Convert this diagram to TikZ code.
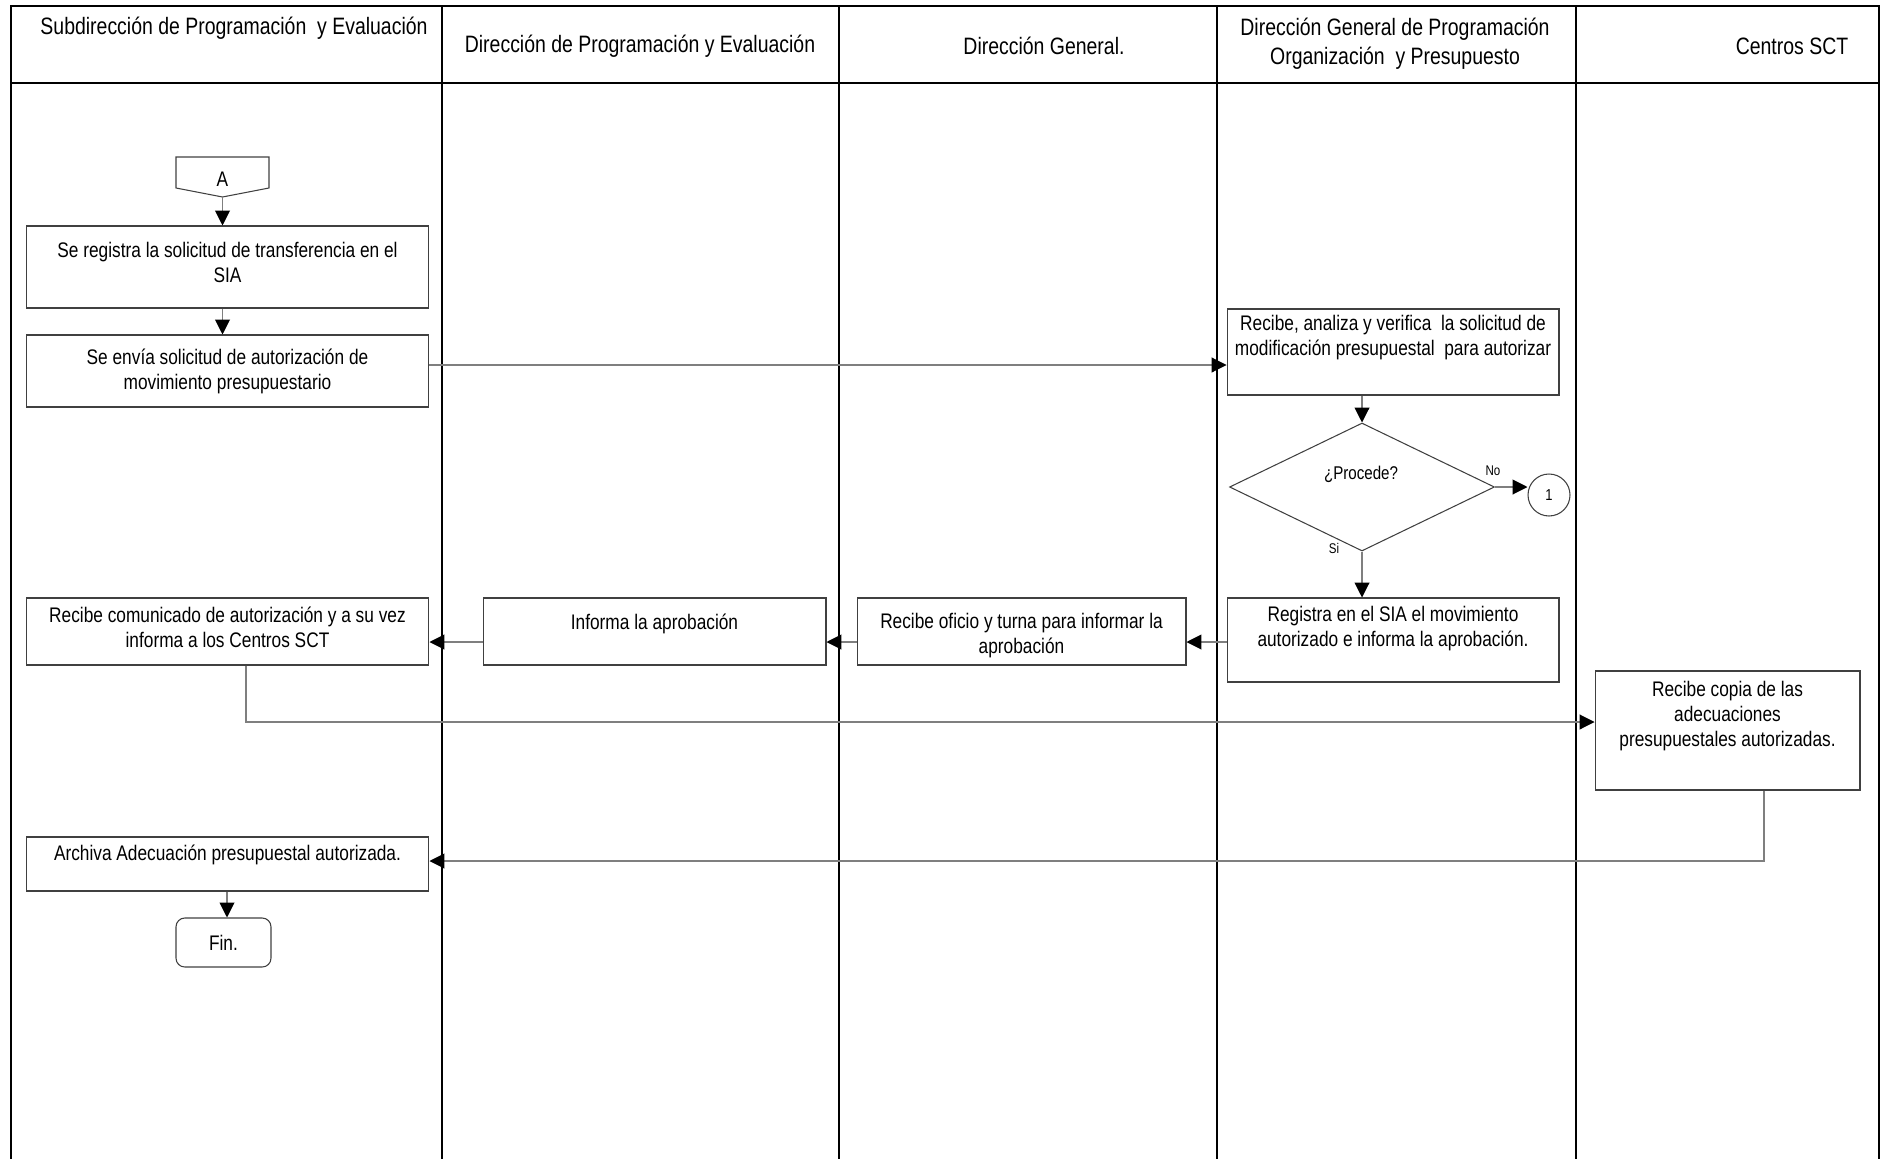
\documentclass[tikz,border=0pt]{standalone}
\usepackage{fontspec}
\setmainfont{Liberation Sans}[FakeStretch=0.82]
\usetikzlibrary{arrows.meta,positioning,shapes.geometric}
\definecolor{fline}{HTML}{7F7F7F}
\definecolor{fbox}{HTML}{404040}

\begin{document}
\begin{tikzpicture}[x=0.02cm, y=-0.02cm,
  lane/.style={line width=1.1pt, black},
  box/.style={draw=fbox, line width=0.6pt, rectangle, inner sep=0pt},
  txt/.style={font=\fontsize{12}{14.2}\selectfont, align=center, inner sep=0pt},
  head/.style={font=\fontsize{13.5}{16.4}\selectfont, align=center, inner sep=0pt},
  tag/.style={font=\fontsize{8}{9}\selectfont, inner sep=0pt},
  flow/.style={draw=fline, line width=0.6pt,
               -{Triangle[length=8.5pt,width=8.5pt,color=black]}}]
\useasboundingbox (0,0) rectangle (1883,1159);
% ---- swimlanes ----------------------------------------------------
\draw[lane] (11,1159) -- (11,6) -- (1879,6) -- (1879,1159);
\draw[lane] (11,83) -- (1879,83);
\foreach \x in {442,839,1217,1576}
  \draw[lane] (\x,6) -- (\x,1159);
\node[head] (hSub) at (234,28) {Subdirección de Programación\ \ y Evaluación};
\node[head] (hDir) at (640,46) {Dirección de Programación y Evaluación};
\node[head] (hGen) at (1044,46) {Dirección General.};
\node[head] (hDgp) at (1395,44) {Dirección General de Programación\\Organización\ \ y Presupuesto};
\node[head] (hCen) at (1792,46) {Centros SCT};
% ---- off-page connector A -----------------------------------------
\draw[box] (176,157) -- (269,157) -- (269,188) -- (222.5,197) -- (176,188) -- cycle;
\coordinate (aTip) at (222.5,197);
\node[font=\fontsize{12}{14}\selectfont] (aTxt) at (222.5,179) {A};
% ---- Subdireccion: first steps ------------------------------------
\node[box, minimum width=8.06cm, minimum height=1.64cm] (reg) at (227.5,267) {};
\node[txt] (regT) at (227.5,262.5) {Se registra la solicitud de transferencia en el\\SIA};
\node[box, minimum width=8.06cm, minimum height=1.44cm] (env) at (227.5,371) {};
\node[txt] (envT) at (227.5,371) {Se envía solicitud de autorización de\\movimiento presupuestario};
\coordinate (colA) at (222.5,0);
\draw[flow] (aTip) -- (aTip |- reg.north);
\draw[flow] (reg.south -| colA) -- (env.north -| colA);
% ---- DGPOP: review and decision -----------------------------------
\node[box, minimum width=6.64cm, minimum height=1.72cm] (rev) at (1393,352) {};
\node[txt] (revT) at (1393,338) {Recibe, analiza y verifica\ \ la solicitud de\\modificación presupuestal\ \ para autorizar};
\coordinate (sendY) at (0,365);
\draw[flow] (env.east |- sendY) -- (rev.west |- sendY);
\node[diamond, draw=fbox, line width=0.6pt, inner sep=0pt,
      minimum width=5.3cm, minimum height=2.56cm] (proc) at (1362,487) {};
\node[font=\fontsize{10.5}{12}\selectfont] (procT) at (1361,474) {¿Procede?};
\draw[flow] (proc.north |- rev.south) -- (proc.north);
\node[circle, draw=fbox, line width=0.6pt, minimum size=0.84cm, inner sep=0pt,
      font=\fontsize{9}{10}\selectfont] (uno) at (1549,495) {1};
\draw[flow] (proc.east) -- (proc.east -| uno.west);
\node[tag] (noT) at (1493,471) {No};
\node[tag] (siT) at (1334,548) {Si};
\node[box, minimum width=6.64cm, minimum height=1.68cm] (regsia) at (1393,640) {};
\node[txt] (regsiaT) at (1393,629) {Registra en el SIA el movimiento\\autorizado e informa la aprobación.};
\draw[flow] (proc.south) -- (proc.south |- regsia.north);
% ---- approval travels back ----------------------------------------
\node[box, minimum width=6.58cm, minimum height=1.34cm] (ofi) at (1021.5,631.5) {};
\node[txt] (ofiT) at (1021.5,636) {Recibe oficio y turna para informar la\\aprobación};
\node[box, minimum width=6.86cm, minimum height=1.34cm] (inf) at (654.5,631.5) {};
\node[txt] (infT) at (654.5,624) {Informa la aprobación};
\node[box, minimum width=8.06cm, minimum height=1.34cm] (com) at (227.5,631.5) {};
\node[txt] (comT) at (227.5,627) {Recibe comunicado de autorización y a su vez\\informa a los Centros SCT};
\coordinate (backY) at (0,642);
\draw[flow] (regsia.west |- backY) -- (ofi.east |- backY);
\draw[flow] (ofi.west |- backY) -- (inf.east |- backY);
\draw[flow] (inf.west |- backY) -- (com.east |- backY);
% ---- Centros SCT and closing --------------------------------------
\node[box, minimum width=5.3cm, minimum height=2.38cm] (cop) at (1727.5,730.5) {};
\node[txt] (copT) at (1727.5,716) {Recibe copia de las\\adecuaciones\\presupuestales autorizadas.};
\coordinate (turnA) at (246,722);
\draw[flow] (com.south -| turnA) |- (cop.west |- turnA);
\node[box, minimum width=8.06cm, minimum height=1.08cm] (arc) at (227.5,864) {};
\node[txt] (arcT) at (227.5,855) {Archiva Adecuación presupuestal autorizada.};
\coordinate (turnB) at (1764,861);
\draw[flow] (cop.south -| turnB) |- (arc.east |- turnB);
\node[box, rounded corners=5pt, minimum width=1.9cm, minimum height=0.98cm,
      font=\fontsize{12}{14}\selectfont] (fin) at (223.5,942.5) {Fin.};
\coordinate (colB) at (227,0);
\draw[flow] (arc.south -| colB) -- (fin.north -| colB);
\end{tikzpicture}
\end{document}
